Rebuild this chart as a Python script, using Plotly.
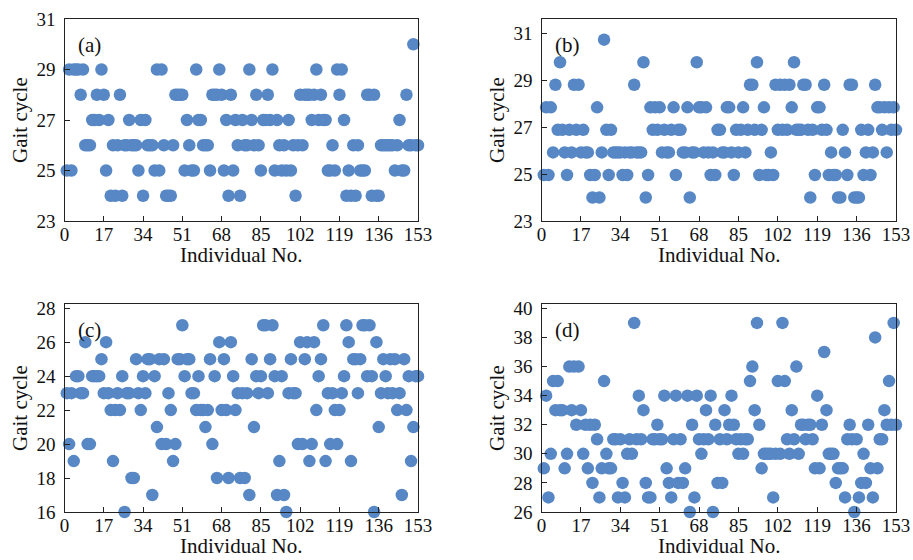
import plotly.graph_objects as go

# Individual numbers 1..153
individual = list(range(1, 154))

# Panel (a) gait cycle values
gait_a = [25, 29, 25, 29, 29, 29, 28, 29, 26, 26, 26, 27, 27, 28, 27, 29, 28, 25, 27, 24,
          26, 24, 26, 28, 24, 26, 26, 27, 26, 26, 26, 25, 27, 24, 27, 26, 26, 26, 25, 29,
          25, 29, 26, 24, 24, 24, 26, 28, 28, 28, 28, 25, 27, 26, 25, 25, 29, 27, 27, 26,
          26, 26, 25, 28, 28, 28, 29, 28, 25, 27, 24, 28, 25, 27, 26, 24, 27, 26, 26, 29,
          27, 26, 28, 26, 25, 27, 27, 28, 27, 29, 25, 27, 26, 25, 26, 25, 27, 25, 26, 24,
          26, 28, 26, 28, 28, 28, 27, 28, 29, 27, 28, 27, 27, 25, 25, 26, 25, 29, 28, 29,
          27, 24, 25, 24, 26, 24, 26, 25, 25, 25, 28, 28, 24, 28, 24, 24, 26, 26, 26, 26,
          26, 26, 25, 26, 27, 25, 25, 28, 26, 26, 30, 26, 26]

# Panel (b) gait cycle values (frame counts x 0.96)
frames_b = [26, 29, 26, 29, 27, 30, 28, 31, 28, 27, 26, 28, 27, 30, 28, 30, 27, 28, 27, 27,
            26, 25, 26, 29, 25, 27, 32, 28, 26, 28, 27, 27, 27, 27, 26, 27, 26, 27, 27, 30,
            27, 27, 27, 31, 25, 26, 29, 28, 29, 28, 29, 27, 28, 27, 27, 28, 29, 26, 28, 28,
            27, 27, 29, 25, 27, 27, 31, 29, 29, 27, 29, 27, 26, 27, 26, 28, 28, 27, 27, 29,
            29, 27, 26, 28, 27, 28, 29, 27, 28, 30, 30, 28, 31, 26, 28, 29, 26, 26, 27, 26,
            30, 28, 30, 28, 30, 28, 30, 29, 31, 28, 28, 28, 30, 30, 28, 25, 28, 26, 29, 29,
            28, 30, 28, 26, 27, 26, 26, 25, 25, 28, 27, 26, 30, 30, 25, 25, 25, 28, 26, 27,
            28, 26, 27, 30, 29, 29, 28, 29, 27, 29, 28, 29, 28]
gait_b = [round(f * 0.96, 2) for f in frames_b]

# Panel (c) gait cycle values
gait_c = [23, 20, 23, 19, 24, 24, 23, 23, 26, 20, 20, 24, 24, 24, 24, 25, 23, 26, 23, 22,
          19, 22, 23, 22, 24, 16, 23, 23, 18, 18, 25, 23, 22, 24, 23, 25, 25, 17, 24, 21,
          25, 20, 25, 20, 23, 22, 19, 20, 25, 25, 27, 24, 25, 25, 23, 23, 22, 24, 22, 22,
          21, 22, 25, 20, 24, 18, 26, 22, 25, 22, 18, 26, 24, 22, 23, 18, 23, 18, 23, 17,
          25, 21, 24, 23, 24, 27, 27, 23, 25, 27, 24, 17, 19, 24, 17, 16, 23, 25, 23, 23,
          20, 26, 20, 25, 26, 19, 20, 26, 22, 24, 25, 27, 19, 23, 20, 23, 22, 20, 22, 23,
          24, 27, 26, 19, 25, 25, 23, 25, 27, 27, 24, 27, 24, 16, 26, 21, 23, 25, 24, 23,
          25, 23, 25, 22, 23, 17, 25, 22, 24, 19, 21, 24, 24]

# Panel (d) gait cycle values
gait_d = [29, 34, 27, 30, 35, 33, 35, 33, 33, 29, 30, 36, 33, 36, 32, 36, 33, 30, 32, 29,
          32, 28, 32, 31, 27, 29, 35, 30, 29, 29, 31, 31, 27, 31, 28, 27, 30, 31, 30, 39,
          31, 34, 31, 33, 28, 27, 27, 31, 31, 32, 31, 31, 34, 29, 28, 27, 31, 34, 28, 31,
          28, 29, 34, 26, 32, 27, 34, 31, 30, 31, 33, 31, 34, 26, 32, 28, 31, 28, 33, 31,
          32, 34, 32, 31, 30, 31, 30, 31, 31, 35, 36, 33, 39, 32, 29, 30, 30, 30, 30, 27,
          30, 35, 30, 39, 35, 31, 30, 33, 31, 36, 30, 32, 32, 31, 32, 32, 31, 29, 34, 29,
          32, 37, 33, 30, 30, 30, 28, 29, 29, 29, 27, 31, 32, 31, 26, 31, 27, 28, 30, 28,
          32, 29, 27, 38, 29, 31, 31, 33, 32, 35, 32, 39, 32]

x_ticks = [0, 17, 34, 51, 68, 85, 102, 119, 136, 153]
panel_labels = ["(a)", "(b)", "(c)", "(d)"]
y_ranges = [[23, 31], [23, 31.6], [16, 28.25], [26, 40.3]]
y_ticks = [[23, 25, 27, 29, 31], [23, 25, 27, 29, 31],
           [16, 18, 20, 22, 24, 26, 28], [26, 28, 30, 32, 34, 36, 38, 40]]
x_title = "Individual No."
y_title = "Gait cycle"

W, H = 913, 560


def px_x(x):
    return x / W


def px_y(y):
    return 1 - y / H


# target pixel positions in the 913x560 window
col_px = [(64.5, 418), (541.5, 896)]
row_px = [(19, 221), (304, 512)]
ytitle_x = [20, 497]
marker_color = "#5787c4"
font_family = "Liberation Serif, Times New Roman, serif"
tick_font = dict(family=font_family, size=19, color="#111")
title_font = dict(family=font_family, size=21, color="#111")

fig = go.Figure()
series = [gait_a, gait_b, gait_c, gait_d]
layout_axes = {}
for k, ys in enumerate(series):
    r, c = divmod(k, 2)
    xa = "x" if k == 0 else f"x{k+1}"
    ya = "y" if k == 0 else f"y{k+1}"
    fig.add_trace(go.Scatter(
        x=individual, y=ys, mode="markers", xaxis=xa, yaxis=ya,
        marker=dict(size=12.5, color=marker_color, line=dict(width=0)),
        cliponaxis=False, showlegend=False))
    x0, x1 = col_px[c]
    t, b = row_px[r]
    axis_common = dict(showgrid=False, zeroline=False, showline=True, mirror=True,
                       linecolor="#222", linewidth=1.2, ticks="inside", ticklen=5,
                       tickcolor="#222", tickwidth=1.2, automargin=False,
                       tickfont=tick_font)
    layout_axes["xaxis" if k == 0 else f"xaxis{k+1}"] = dict(
        domain=[px_x(x0), px_x(x1)], anchor=ya, range=[0, 153],
        tickmode="array", tickvals=x_ticks, ticktext=[str(v) for v in x_ticks],
        ticklabelstandoff=-4, **axis_common)
    layout_axes["yaxis" if k == 0 else f"yaxis{k+1}"] = dict(
        domain=[px_y(b), px_y(t)], anchor=xa, range=y_ranges[k],
        tickmode="array", tickvals=y_ticks[k], ticktext=[str(v) for v in y_ticks[k]],
        ticklabelstandoff=4, **axis_common)
    # panel label
    fig.add_annotation(text=panel_labels[k], xref="paper", yref="paper",
                       x=px_x(x0 + 11), y=px_y(t + 26), xanchor="left", yanchor="middle",
                       showarrow=False, font=title_font)
    # x-axis title
    fig.add_annotation(text=x_title, xref="paper", yref="paper",
                       x=px_x((x0 + x1) / 2), y=px_y(b + 34),
                       xanchor="center", yanchor="middle", showarrow=False, font=title_font)
    # y-axis title
    fig.add_annotation(text=y_title, xref="paper", yref="paper", textangle=-90,
                       x=px_x(ytitle_x[c]), y=px_y((t + b) / 2),
                       xanchor="center", yanchor="middle", showarrow=False, font=title_font)

fig.update_layout(width=W, height=H, margin=dict(l=0, r=0, t=0, b=0),
                  paper_bgcolor="white", plot_bgcolor="white", hovermode=False,
                  **layout_axes)
# remove the default page margin so the 913x560 figure fills the window exactly
fig.write_html("out.html", config={"displayModeBar": False},
               post_script="document.body.style.margin='0';document.body.style.overflow='hidden';")
